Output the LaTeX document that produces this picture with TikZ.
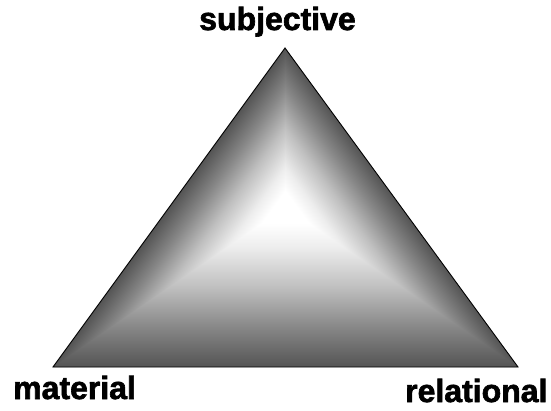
\documentclass[tikz,border=0pt]{standalone}
\usepackage{fontspec}
\setmainfont{Liberation Sans}
\newfontfamily\cornerfont[FakeBold=2]{Liberation Sans Bold}
\definecolor{edgegray}{gray}{0.33}
\definecolor{lowgray}{gray}{0.53}
\definecolor{midgray}{gray}{0.75}
\definecolor{highgray}{gray}{0.93}
\pgfdeclareverticalshading{facefade}{100bp}{color(0bp)=(edgegray); color(25bp)=(edgegray);
  color(37.5bp)=(lowgray); color(50bp)=(midgray); color(62.5bp)=(highgray);
  color(70bp)=(white); color(100bp)=(white)}
\tikzset{label text/.style={font=\fontsize{32}{36}\cornerfont, inner sep=0pt}}

\begin{document}
\begin{tikzpicture}[x=1pt,y=1pt]
\useasboundingbox (0,0) rectangle (551,410);
\coordinate (top) at (285,362);
\coordinate (bl) at (53,43);
\coordinate (br) at (518,43);
\coordinate (mid) at (285,203);
% left face
\begin{scope}
  \clip (top) -- (bl) -- (br) -- cycle;
  \begin{scope}[transform canvas={shift={(top)},rotate=233.97}]
    \shade[shading=facefade] (-5,0) rectangle (400,93.5);
  \end{scope}
\end{scope}
% right face
\begin{scope}
  \clip (br) -- (top) -- (mid) -- (bl) -- cycle;
  \begin{scope}[transform canvas={shift={(br)},rotate=126.15}]
    \shade[shading=facefade] (-5,0) rectangle (400,93.5);
  \end{scope}
\end{scope}
% bottom face
\begin{scope}
  \clip (bl) -- (br) -- (mid) -- cycle;
  \begin{scope}[transform canvas={shift={(bl)}}]
    \shade[shading=facefade] (-5,0) rectangle (470,160);
  \end{scope}
\end{scope}
\draw[line width=0.9pt, line join=miter] (top) -- (bl) -- (br) -- cycle;
\node[label text, anchor=base] (subj) at (277.5,380) {subjective};
\node[label text, anchor=base west] (mat) at (13,11) {material};
\node[label text, anchor=base west] (rel) at (405,8) {relational};
\end{tikzpicture}
\end{document}
